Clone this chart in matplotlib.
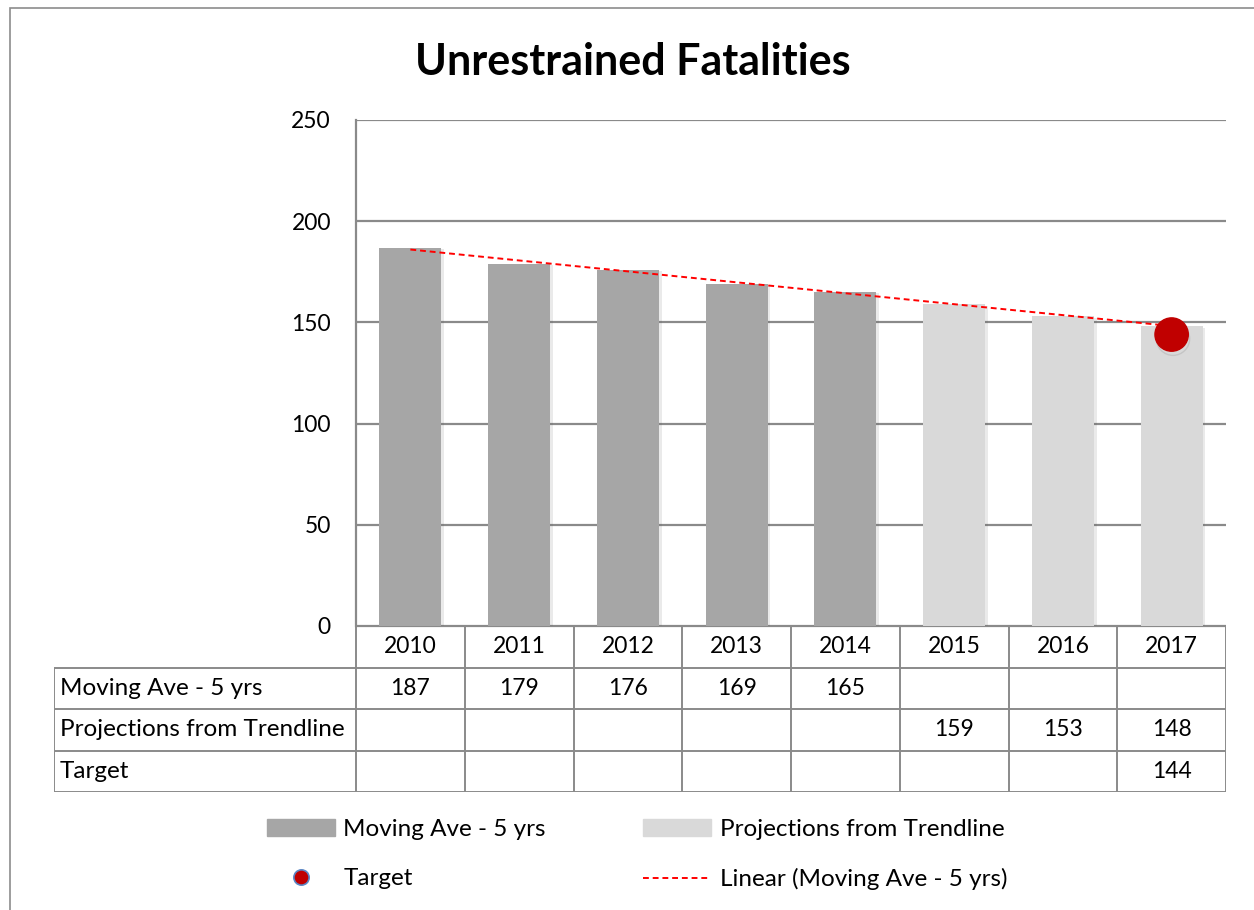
import numpy as np
import matplotlib.pyplot as plt
from matplotlib.lines import Line2D
from matplotlib.patches import Rectangle, Patch
import matplotlib.patheffects as pe

plt.rcParams['font.family'] = ['Lato', 'DejaVu Sans']

years = ['2010', '2011', '2012', '2013', '2014', '2015', '2016', '2017']
moving_ave = [187, 179, 176, 169, 165, None, None, None]
projections = [None, None, None, None, None, 159, 153, 148]
target = [None, None, None, None, None, None, None, 144]
row_names = ['Moving Ave - 5 yrs', 'Projections from Trendline', 'Target']

fs_num = 16.5
fs_txt = 17.5
grid_col = '#8a8a8a'
dark = '#a6a6a6'
light = '#d9d9d9'

fig = plt.figure(figsize=(12.54, 9.1), dpi=100)
fig.patches.append(Rectangle((10/1254, -0.1), 1.2, 1 - 8/910 + 0.1, transform=fig.transFigure,
                             fill=False, edgecolor='#8c8c8c', lw=1.2))

ax = fig.add_axes([356/1254, 1 - 626/910, 870/1254, 506/910])
x = np.arange(len(years))
shadow = [pe.SimplePatchShadow(offset=(2, -1), alpha=0.12, shadow_rgbFace='#555555'), pe.Normal()]

ma = np.array([np.nan if v is None else v for v in moving_ave], dtype=float)
pr = np.array([np.nan if v is None else v for v in projections], dtype=float)
tg = np.array([np.nan if v is None else v for v in target], dtype=float)

b1 = ax.bar(x, ma, width=0.57, color=dark, zorder=3)
b2 = ax.bar(x, pr, width=0.57, color=light, zorder=3)
for b in list(b1) + list(b2):
    b.set_path_effects(shadow)

# linear trend of the moving average, extended to 2017
known = ~np.isnan(ma)
k, c0 = np.polyfit(x[known], ma[known], 1)
trend, = ax.plot(x, k * x + c0, color='#ff0000', lw=1.4, ls=(0, (3, 2)), zorder=4)

ax.plot(x, tg, 'o', color='#c00000', ms=24, zorder=5,
        path_effects=[pe.SimpleLineShadow(offset=(1, -3), alpha=0.15, shadow_color='#555555'),
                      pe.Normal()])

ax.set_xlim(-0.5, 7.5)
ax.set_ylim(0, 250)
ax.set_yticks([0, 50, 100, 150, 200, 250])
ax.yaxis.grid(True, color=grid_col, lw=1.6, zorder=0)
ax.set_axisbelow(True)
for s in ax.spines.values():
    s.set_visible(False)
ax.spines['left'].set_visible(True)
ax.spines['left'].set_color(grid_col)
ax.spines['left'].set_linewidth(1.6)
ax.set_xticks([])
ax.tick_params(axis='y', length=0, labelsize=fs_num, pad=18)

fig.text(0.505, 0.932, 'Unrestrained Fatalities', ha='center', va='center',
         fontsize=31, fontweight='bold')

# data table below the plot
xl = -0.5 - 302 / 108.75
at = fig.add_axes([54/1254, 1 - 792/910, 1172/1254, 166/910])
at.set_xlim(xl, 7.5)
at.set_ylim(0, 4)
at.axis('off')
at.hlines(4, -0.5, 7.5, color=grid_col, lw=1.6)
at.hlines([0, 1, 2, 3], xl, 7.5, color=grid_col, lw=1.4)
at.vlines(np.arange(-0.5, 8.5, 1), 0, 4, color=grid_col, lw=1.4)
at.vlines(xl, 0, 3, color=grid_col, lw=1.4)
for i, yr in enumerate(years):
    at.text(i, 3.5, yr, ha='center', va='center', fontsize=fs_num)
for r, row in enumerate([moving_ave, projections, target]):
    yy = 2.5 - r
    at.text(xl + 0.055, yy, row_names[r], ha='left', va='center', fontsize=fs_txt)
    for i, v in enumerate(row):
        if v is not None:
            at.text(i, yy, str(v), ha='center', va='center', fontsize=fs_num)

h1 = Patch(color=dark)
h2 = Patch(color=light)
dot = Line2D([], [], marker='o', ls='none', color='#c00000', mec='#5b87c5', mew=1.2, ms=11)
fig.legend([h1, dot, h2, trend],
           [row_names[0], 'Target', row_names[1], 'Linear (Moving Ave - 5 yrs)'],
           ncol=2, loc='center', bbox_to_anchor=(0.508, 0.0605), frameon=False,
           fontsize=fs_txt, handlelength=2.8, handletextpad=0.35, columnspacing=4.0,
           labelspacing=1.15)

fig.savefig('out.png', dpi=100)
